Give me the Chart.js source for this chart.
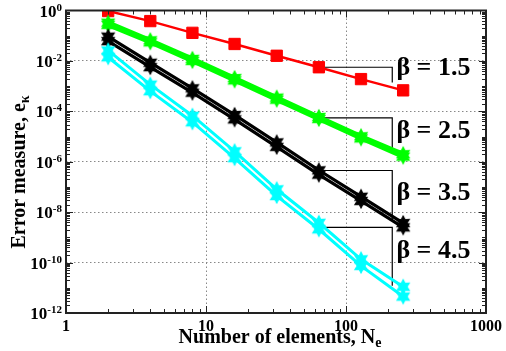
<!DOCTYPE html>
<html><head><meta charset="utf-8">
<script src="https://cdn.jsdelivr.net/npm/chart.js@4/dist/chart.umd.min.js"></script>
<style>html,body{margin:0;padding:0;background:#fff}</style>
</head><body>
<canvas id="c" width="506" height="351"></canvas>
<script>
// ---- data ----
const elements = [2, 4, 8, 16, 32, 64, 128, 256];
const beta15  = [0.95, 0.38, 0.13, 0.047, 0.016, 0.0056, 0.0019, 0.00068];
const beta25a = [0.33, 0.066, 0.0121, 0.0021, 3.5e-4, 6.0e-5, 1.03e-5, 2.0e-6];
const beta25b = [0.27, 0.055, 0.010, 0.0017, 2.9e-4, 5.0e-5, 8.5e-6, 1.6e-6];
const beta35a = [0.092, 0.0085, 8.2e-4, 7.2e-5, 5.9e-6, 4.6e-7, 4.1e-8, 3.7e-9];
const beta35b = [0.061, 0.0057, 5.5e-4, 4.8e-5, 3.9e-6, 3.1e-7, 2.8e-8, 2.5e-9];
const beta45a = [0.026, 1.15e-3, 6.7e-5, 2.6e-6, 8.1e-8, 3.8e-9, 1.35e-10, 1.1e-11];
const beta45b = [0.014, 6.3e-4, 3.7e-5, 1.4e-6, 4.4e-8, 2.1e-9, 7.4e-11, 4.5e-12];

const betaLabels = ['\u03b2 = 1.5', '\u03b2 = 2.5', '\u03b2 = 3.5', '\u03b2 = 4.5'];
const bracketStartY = [beta15[5], 5.5e-5, 4.5e-7, 2.5e-9];
const bracketEndY = [1.4e-3, 2.8e-6, 4.7e-9, 1.2e-11];
const bracketX = 214;
const labelX = 229;
const labelY = [5e-3, 1.6e-5, 5.5e-8, 2.7e-10];

const xTickValues = [1, 10, 100, 1000];
const xTickLabels = ['1', '10', '100', '1000'];
const yTickExponents = [0, -2, -4, -6, -8, -10, -12];
const xTitle = ['Number of elements, N', 'e'];
const yTitle = ['Error measure, e', '\u03ba'];

// ---- helpers ----
const SERIF = "'Liberation Serif','Times New Roman',serif";
function series(vals) { return elements.map((x, i) => ({ x: x, y: vals[i] })); }
function hexMarker(color, r) {
  const s = Math.ceil(r * 2 + 4);
  const c = document.createElement('canvas'); c.width = c.height = s;
  const g = c.getContext('2d'); g.translate(s / 2, s / 2); g.beginPath();
  for (let i = 0; i < 12; i++) {
    const ang = -Math.PI / 2 + i * Math.PI / 6;
    const rr = i % 2 === 0 ? r : r * 0.55;
    g.lineTo(rr * Math.cos(ang), rr * Math.sin(ang));
  }
  g.closePath(); g.fillStyle = color; g.fill();
  g.strokeStyle = color; g.lineWidth = 1.2; g.stroke();
  return c;
}
const greenMk = hexMarker('#00ff00', 7);
const blackMk = hexMarker('#000000', 7);
const cyanMk = hexMarker('#00ffff', 7);

function lineDs(vals, color, width, marker) {
  return {
    data: series(vals), borderColor: color, backgroundColor: color, borderWidth: width,
    pointStyle: marker, pointRadius: 6, pointHoverRadius: 6, tension: 0
  };
}
const datasets = [
  lineDs(beta45a, '#00ffff', 3, cyanMk),
  lineDs(beta45b, '#00ffff', 3, cyanMk),
  lineDs(beta35a, '#000000', 3.2, blackMk),
  lineDs(beta35b, '#000000', 3.2, blackMk),
  lineDs(beta25a, '#00ff00', 4.5, greenMk),
  lineDs(beta25b, '#00ff00', 4.5, greenMk),
  Object.assign(lineDs(beta15, '#ff0000', 2.5, 'rect'), { pointRadius: 8, pointHoverRadius: 8, pointBorderWidth: 1 })
];
for (let i = 0; i < 4; i++) {
  datasets.push({
    data: [{ x: elements[5], y: bracketStartY[i] }, { x: bracketX, y: bracketStartY[i] }, { x: bracketX, y: bracketEndY[i] }],
    borderColor: '#000', borderWidth: 1.2, pointRadius: 0, tension: 0
  });
}

const decor = {
  id: 'decor',
  afterDraw(chart) {
    const { ctx, chartArea: a, scales: { x, y } } = chart;
    ctx.save();
    const seg = (x1, y1, x2, y2) => { ctx.beginPath(); ctx.moveTo(x1, y1); ctx.lineTo(x2, y2); ctx.stroke(); };
    ctx.strokeStyle = '#222'; ctx.lineWidth = 1;
    for (let d = 0; d < 3; d++) for (let k = 1; k < 10; k++) {
      const px = Math.round(x.getPixelForValue(k * Math.pow(10, d))) + 0.5;
      const L = k === 1 ? 7 : 4;
      seg(px, a.bottom, px, a.bottom - L); seg(px, a.top, px, a.top + L);
    }
    for (let d = -12; d < 0; d++) for (let k = 1; k < 10; k++) {
      const py = Math.round(y.getPixelForValue(k * Math.pow(10, d))) + 0.5;
      const L = (k === 1 && d % 2 === 0) ? 7 : 4;
      seg(a.left, py, a.left + L, py); seg(a.right, py, a.right - L, py);
    }
    ctx.lineWidth = 2; ctx.strokeStyle = '#222';
    ctx.strokeRect(a.left, a.top, a.right - a.left, a.bottom - a.top);

    // y tick labels with superscripts
    ctx.fillStyle = '#000'; ctx.textBaseline = 'alphabetic';
    for (const e of yTickExponents) {
      const py = y.getPixelForValue(Math.pow(10, e));
      ctx.font = 'bold 11px ' + SERIF; ctx.textAlign = 'right';
      const sup = String(e);
      const sw = ctx.measureText(sup).width;
      ctx.fillText(sup, a.left - 4, py);
      ctx.font = 'bold 17px ' + SERIF;
      ctx.fillText('10', a.left - 4 - sw, py + 6);
    }
    // x title
    ctx.font = 'bold 20px ' + SERIF;
    const w1 = ctx.measureText(xTitle[0]).width;
    ctx.font = 'bold 14px ' + SERIF;
    const w2 = ctx.measureText(xTitle[1]).width;
    let sx = (a.left + a.right) / 2 + 4 - (w1 + w2) / 2;
    ctx.textAlign = 'left';
    ctx.font = 'bold 20px ' + SERIF; ctx.fillText(xTitle[0], sx, 343);
    ctx.font = 'bold 14px ' + SERIF; ctx.fillText(xTitle[1], sx + w1, 347);
    // y title
    ctx.save();
    ctx.translate(25, 172); ctx.rotate(-Math.PI / 2);
    ctx.font = 'bold 20px ' + SERIF;
    const v1 = ctx.measureText(yTitle[0]).width;
    ctx.font = 'bold 14px ' + SERIF;
    const v2 = ctx.measureText(yTitle[1]).width;
    const st = -(v1 + v2) / 2;
    ctx.font = 'bold 20px ' + SERIF; ctx.fillText(yTitle[0], st, 0);
    ctx.font = 'bold 14px ' + SERIF; ctx.fillText(yTitle[1], st + v1, 4);
    ctx.restore();
    // beta labels
    ctx.font = 'bold 26px ' + SERIF; ctx.textAlign = 'left'; ctx.textBaseline = 'middle';
    for (let i = 0; i < 4; i++) {
      ctx.fillText(betaLabels[i], x.getPixelForValue(labelX), y.getPixelForValue(labelY[i]));
    }
    ctx.restore();
  }
};

const gridColor = (ctx, keep) => keep(ctx.tick && ctx.tick.value) ? '#888' : 'rgba(0,0,0,0)';

new Chart(document.getElementById('c'), {
  type: 'line',
  data: { datasets: datasets },
  options: {
    responsive: false, animation: false, devicePixelRatio: 1,
    layout: { padding: { top: 10, right: 18, left: 0, bottom: 0 } },
    plugins: { legend: { display: false }, tooltip: { enabled: false }, title: { display: false } },
    scales: {
      x: {
        type: 'logarithmic', min: 1, max: 1000,
        afterBuildTicks: s => { s.ticks = xTickValues.map(v => ({ value: v })); },
        afterFit: s => { s.height = 38; },
        ticks: {
          autoSkip: false, maxRotation: 0, padding: 4, color: '#000',
          font: { family: SERIF, size: 16, weight: 'bold' },
          callback: (v) => xTickLabels[xTickValues.indexOf(v)]
        },
        grid: { drawTicks: false, lineWidth: 1, color: c => gridColor(c, v => v === 10 || v === 100) },
        border: { display: false, dash: [1.5, 2.5] }
      },
      y: {
        type: 'logarithmic', min: 1e-12, max: 1,
        afterBuildTicks: s => { s.ticks = yTickExponents.map(e => ({ value: Math.pow(10, e) })); },
        afterFit: s => { s.width = 66; },
        ticks: { display: false },
        grid: { drawTicks: false, lineWidth: 1, color: c => gridColor(c, v => v < 0.5 && v > 1e-11) },
        border: { display: false, dash: [1.5, 2.5] }
      }
    }
  },
  plugins: [decor]
});
</script>
</body></html>
